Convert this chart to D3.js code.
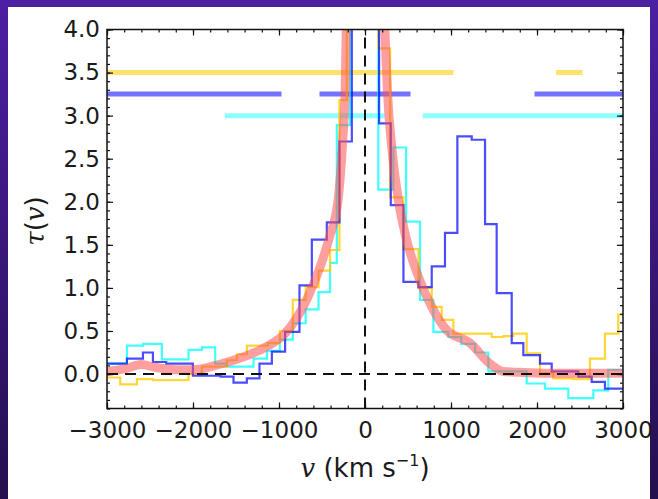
<!DOCTYPE html>
<html>
<head>
<meta charset="utf-8">
<script src="https://cdn.jsdelivr.net/npm/d3@7"></script>
<style>
  body { margin: 0; background: #fff; }
  svg { display: block; }
</style>
</head>
<body>
<div id="chart"></div>
<script>
// optical depth profiles (bin edges in km/s, tau per bin)
var blueEdges = [-3000, -2768, -2582, -2466, -2311, -2001, -1680, -1529, -1374, -1227, -1083, -929, -762, -618, -444, -297, -153, 164, 300, 447, 621, 776, 930, 1074, 1241, 1396, 1531, 1706, 1841, 2035, 2171, 2480, 2636, 2790, 3000];
var blueTau   = [0.12, 0.18, 0.25, 0.14, 0.12, -0.02, -0.03, -0.10, -0.05, 0.12, 0.26, 0.49, 1.03, 1.56, 1.76, 2.70, 8.0, 2.91, 1.96, 1.07, 1.01, 1.25, 1.64, 2.76, 2.72, 1.74, 0.94, 0.36, 0.22, 0.12, 0.03, -0.03, -0.09, -0.17];

var cyanEdges = [-3000, -2768, -2582, -2362, -2052, -1897, -1742, -1606, -1297, -1140, -990, -840, -690, -540, -406, -328, -173, 155, 330, 478, 640, 795, 969, 1120, 1280, 1434, 1880, 2093, 2364, 2655, 2829, 3000];
var cyanTau   = [0.12, 0.33, 0.35, 0.17, 0.28, 0.31, 0.12, 0.085, 0.18, 0.27, 0.40, 0.59, 0.75, 0.95, 1.29, 2.89, 8.0, 2.14, 2.63, 1.77, 0.86, 0.49, 0.43, 0.35, 0.25, 0.03, -0.11, -0.17, -0.28, -0.19, 0.05];

var goldEdges = [-3000, -2846, -2652, -2466, -2052, -1897, -1606, -1490, -1374, -1130, -990, -840, -690, -540, -406, -297, -212, 155, 292, 447, 621, 776, 892, 1028, 1473, 1609, 1725, 1880, 2035, 2189, 2422, 2616, 2790, 2945, 3000];
var goldTau   = [-0.04, -0.12, -0.06, -0.07, 0.0, 0.085, 0.16, 0.23, 0.33, 0.36, 0.50, 0.86, 1.01, 1.20, 1.44, 3.18, 8.0, 3.78, 2.05, 1.45, 1.00, 0.78, 0.63, 0.47, 0.43, 0.44, 0.47, 0.24, 0.01, -0.05, -0.06, 0.18, 0.47, 0.69];

// model profile (thick red curve)
var modelV   = [-3000, -2800, -2600, -2450, -2200, -2000, -1720, -1410, -1140, -930, -680, -520, -410, -313, -260, -230, -215, -205, 205, 225, 260, 320, 388, 466, 621, 776, 950, 1221, 1453, 1609, 1800, 2113, 2500, 3000];
var modelTau = [0.03, 0.06, 0.11, 0.08, 0.05, 0.05, 0.105, 0.20, 0.32, 0.47, 0.86, 1.25, 1.60, 2.02, 2.70, 3.30, 4.20, 5.0, 5.0, 4.20, 3.30, 2.55, 2.02, 1.63, 1.13, 0.78, 0.51, 0.36, 0.12, 0.03, 0.02, 0.01, 0.01, 0.01];

// velocity ranges shown as horizontal bars near the top
var goldRanges = [[-3000, 1000], [2250, 2500]];
var blueRanges = [[-3000, -1000], [-500, 500], [2000, 3000]];
var cyanRanges = [[-1600, 200], [700, 3000]];
var rangeLevels = [3.5, 3.25, 3.0];

var xTicks = [-3000, -2000, -1000, 0, 1000, 2000, 3000];
var yTicks = [0, 0.5, 1, 1.5, 2, 2.5, 3, 3.5, 4];

var W = 658, H = 499;
var x0 = 107, x1 = 623, y0 = 29.5, y1 = 408.5;

var svg = d3.select("#chart").append("svg")
    .attr("width", W)
    .attr("height", H);

var defs = svg.append("defs");
var grad = defs.append("linearGradient").attr("id", "bg")
    .attr("x1", 0).attr("y1", 0).attr("x2", 0).attr("y2", 1);
grad.append("stop").attr("offset", "0%").attr("stop-color", "#4d1fa3");
grad.append("stop").attr("offset", "100%").attr("stop-color", "#24104f");

svg.append("rect").attr("width", W).attr("height", H).attr("fill", "url(#bg)");
svg.append("rect").attr("x", 8).attr("y", 7).attr("width", 642).attr("height", H - 7).attr("fill", "#fff");

defs.append("clipPath").attr("id", "plot")
  .append("rect").attr("x", x0).attr("y", y0).attr("width", x1 - x0).attr("height", y1 - y0);

var x = d3.scaleLinear().domain([-3000, 3000]).range([x0, x1]);
var y = d3.scaleLinear().domain([-0.4, 4.0]).range([y1, y0]);

var plot = svg.append("g").attr("clip-path", "url(#plot)");

// range bars
var bars = [
  { ranges: goldRanges, level: rangeLevels[0], color: "#ffd21f", op: 0.65 },
  { ranges: blueRanges, level: rangeLevels[1], color: "#0000ff", op: 0.55 },
  { ranges: cyanRanges, level: rangeLevels[2], color: "#00ffff", op: 0.45 }
];
bars.forEach(function (b) {
  plot.selectAll(null)
    .data(b.ranges)
    .enter()
    .append("line")
    .attr("x1", d => x(d[0]))
    .attr("x2", d => x(d[1]))
    .attr("y1", y(b.level))
    .attr("y2", y(b.level))
    .attr("stroke", b.color)
    .attr("stroke-opacity", b.op)
    .attr("stroke-width", 5)
    .attr("stroke-linecap", "square");
});

function stepPoints(edges, vals) {
  var pts = vals.map((v, i) => [edges[i], v]);
  pts.push([edges[edges.length - 1], vals[vals.length - 1]]);
  return pts;
}

var step = d3.line()
    .x(d => x(d[0]))
    .y(d => y(d[1]))
    .curve(d3.curveStepAfter);

var steps = [
  { e: cyanEdges, t: cyanTau, color: "#00ffff", op: 0.75 },
  { e: goldEdges, t: goldTau, color: "#ffcc00", op: 0.8 },
  { e: blueEdges, t: blueTau, color: "#0000ff", op: 0.7 }
];
steps.forEach(function (s) {
  plot.append("path")
    .attr("d", step(stepPoints(s.e, s.t)))
    .attr("fill", "none")
    .attr("stroke", s.color)
    .attr("stroke-opacity", s.op)
    .attr("stroke-width", 2.2);
});

var model = d3.line()
    .x((d, i) => x(modelV[i]))
    .y(d => y(d))
    .curve(d3.curveMonotoneX);

plot.append("path")
  .attr("d", model(modelTau))
  .attr("fill", "none")
  .attr("stroke", "#ff5050")
  .attr("stroke-opacity", 0.55)
  .attr("stroke-width", 9)
  .attr("stroke-linejoin", "round");

// zero lines
plot.append("line")
  .attr("x1", x0).attr("x2", x1).attr("y1", y(0)).attr("y2", y(0))
  .attr("stroke", "#111").attr("stroke-width", 2).attr("stroke-dasharray", "11,7");
plot.append("line")
  .attr("x1", x(0)).attr("x2", x(0)).attr("y1", y1).attr("y2", y0)
  .attr("stroke", "#111").attr("stroke-width", 2).attr("stroke-dasharray", "11,7");

// axes, ticks pointing inward on all four sides
var font = "DejaVu Sans, sans-serif";
function styleAxis(g) {
  g.select(".domain").remove();
  g.selectAll(".tick line").attr("stroke", "#111").attr("stroke-width", 1.2);
  g.selectAll("text").attr("font-family", font).attr("font-size", 23).attr("fill", "#1a1a1a");
}

var minorX = d3.range(-3000, 3001, 200);
var minorY = d3.range(-0.4, 4.01, 0.1);

svg.append("g").attr("transform", `translate(0,${y1})`)
  .call(d3.axisBottom(x).tickValues(minorX).tickSize(-3).tickFormat(""))
  .call(styleAxis);
svg.append("g").attr("transform", `translate(0,${y0})`)
  .call(d3.axisTop(x).tickValues(minorX).tickSize(-3).tickFormat(""))
  .call(styleAxis);
svg.append("g").attr("transform", `translate(${x0},0)`)
  .call(d3.axisLeft(y).tickValues(minorY).tickSize(-3).tickFormat(""))
  .call(styleAxis);
svg.append("g").attr("transform", `translate(${x1},0)`)
  .call(d3.axisRight(y).tickValues(minorY).tickSize(-3).tickFormat(""))
  .call(styleAxis);

svg.append("g").attr("transform", `translate(0,${y1})`)
  .call(d3.axisBottom(x).tickValues(xTicks).tickSizeInner(-6).tickSizeOuter(0).tickPadding(13).tickFormat(d3.format("d")))
  .call(styleAxis);
svg.append("g").attr("transform", `translate(0,${y0})`)
  .call(d3.axisTop(x).tickValues(xTicks).tickSize(-6).tickFormat(""))
  .call(styleAxis);
svg.append("g").attr("transform", `translate(${x0},0)`)
  .call(d3.axisLeft(y).tickValues(yTicks).tickSizeInner(-6).tickSizeOuter(0).tickPadding(7).tickFormat(d3.format(".1f")))
  .call(styleAxis);
svg.append("g").attr("transform", `translate(${x1},0)`)
  .call(d3.axisRight(y).tickValues(yTicks).tickSize(-6).tickFormat(""))
  .call(styleAxis);

svg.append("rect")
  .attr("x", x0).attr("y", y0).attr("width", x1 - x0).attr("height", y1 - y0)
  .attr("fill", "none").attr("stroke", "#111").attr("stroke-width", 1.5);

// axis titles
var xt = svg.append("text")
  .attr("x", (x0 + x1) / 2).attr("y", 477)
  .attr("text-anchor", "middle")
  .attr("font-family", font).attr("font-size", 26).attr("fill", "#1a1a1a");
xt.append("tspan").attr("font-family", "DejaVu Serif, serif").attr("font-style", "italic").text("v");
xt.append("tspan").text(" (km s");
xt.append("tspan").attr("font-size", 16).attr("dy", -11).text("\u22121");
xt.append("tspan").attr("dy", 11).text(")");

var yt = svg.append("text")
  .attr("transform", "translate(44,221) rotate(-90)")
  .attr("text-anchor", "middle")
  .attr("font-family", font).attr("font-size", 26).attr("fill", "#1a1a1a");
yt.append("tspan").attr("font-family", "DejaVu Serif, serif").attr("font-style", "italic").text("\u03c4");
yt.append("tspan").text("(");
yt.append("tspan").attr("font-family", "DejaVu Serif, serif").attr("font-style", "italic").text("v");
yt.append("tspan").text(")");
</script>
</body>
</html>
